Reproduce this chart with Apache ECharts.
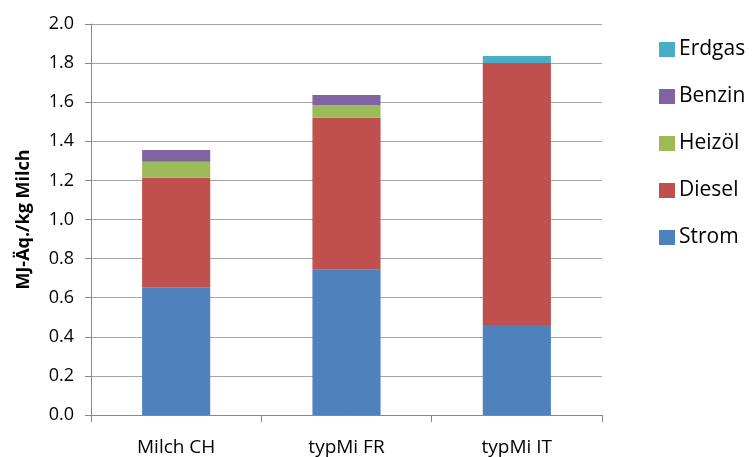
<!DOCTYPE html>
<html><head><meta charset="utf-8">
<script src="https://cdn.jsdelivr.net/npm/echarts@6/dist/echarts.min.js"></script>
<style>html,body{margin:0;padding:0;background:#fff}#c{width:754px;height:457px}</style>
</head><body><div id="c"></div>
<script>
const categories = ['Milch CH', 'typMi FR', 'typMi IT'];
const strom  = [0.653, 0.743, 0.46];
const diesel = [0.561, 0.778, 1.34];
const heizoel = [0.082, 0.063, 0];
const benzin = [0.059, 0.053, 0];
const erdgas = [0, 0, 0.036];
const yTicks = [0, 0.2, 0.4, 0.6, 0.8, 1.0, 1.2, 1.4, 1.6, 1.8, 2.0];

const font = '"Open Sans", sans-serif';
const names = ['Strom', 'Diesel', 'Heizöl', 'Benzin', 'Erdgas'];
const colors = ['#4F81BD', '#C0504D', '#9BBB59', '#8064A2', '#4BACC6'];
const vals = [strom, diesel, heizoel, benzin, erdgas];

const chart = echarts.init(document.getElementById('c'), null, {renderer: 'canvas'});
chart.setOption({
  animation: false,
  backgroundColor: '#fff',
  grid: {left: 91, right: 152, top: 24, bottom: 42, containLabel: false},
  legend: {
    orient: 'vertical', left: 654, top: 34,
    data: ['Erdgas', 'Benzin', 'Heizöl', 'Diesel', 'Strom'],
    itemWidth: 16, itemHeight: 15, itemGap: 26,
    icon: 'rect',
    textStyle: {fontFamily: font, fontSize: 21, color: '#000', lineHeight: 21, padding: [0,0,0,-1]}
  },
  xAxis: {
    type: 'category', data: categories,
    axisLine: {lineStyle: {color: '#888', width: 1}},
    axisTick: {show: true, length: 7, lineStyle: {color: '#888'}},
    axisLabel: {fontFamily: font, fontSize: 19, color: '#000', margin: 23}
  },
  yAxis: {
    type: 'value', min: 0, max: 2, interval: 0.2,
    name: 'MJ-Äq./kg Milch', nameLocation: 'middle', nameGap: 58, nameRotate: 90,
    nameTextStyle: {fontFamily: font, fontSize: 18, fontWeight: 'bold', color: '#000'},
    axisLine: {show: true, lineStyle: {color: '#888'}},
    axisTick: {show: true, length: 6, lineStyle: {color: '#888'}},
    axisLabel: {fontFamily: font, fontSize: 18, color: '#000', margin: 17,
      formatter: v => v.toFixed(1)},
    splitLine: {lineStyle: {color: '#a6a6a6', width: 1}}
  },
  series: names.map((n, i) => ({
    name: n, type: 'bar', stack: 'a', data: vals[i],
    barWidth: '40%',
    itemStyle: {color: colors[i]}
  }))
});
</script></body></html>
